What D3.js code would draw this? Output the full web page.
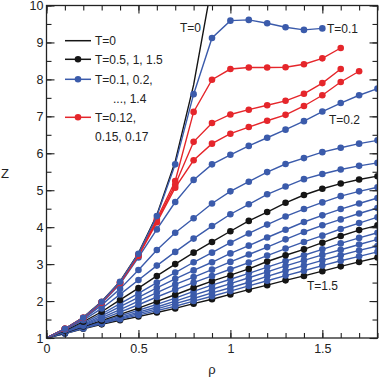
<!DOCTYPE html>
<html>
<head>
<meta charset="utf-8">
<script src="https://cdn.jsdelivr.net/npm/d3@7"></script>
<style>
body { margin: 0; background: #fff; }
text { font-family: "Liberation Sans", Arial, Helvetica, sans-serif; fill: #222; }
</style>
</head>
<body>
<svg id="chart" width="380" height="381"></svg>
<script>
// --- DATA ---
const rho = [0, 0.1, 0.2, 0.3, 0.4, 0.5, 0.6, 0.7, 0.8, 0.9, 1.0, 1.1, 1.2, 1.3, 1.4, 1.5, 1.6, 1.7, 1.8];

const zT0   = [1, 1.25, 1.56, 1.99, 2.53, 3.30, 4.33, 5.78, 7.85, 10.6];
const zT010 = [1, 1.25, 1.55, 1.98, 2.52, 3.28, 4.30, 5.70, 7.60, 9.12, 9.59, 9.61, 9.52, 9.41, 9.34, 9.38];
const zT012 = [1, 1.25, 1.55, 1.97, 2.51, 3.26, 4.22, 5.25, 7.12, 7.99, 8.28, 8.32, 8.32, 8.33, 8.41, 8.57, 8.85];
const zT015 = [1, 1.25, 1.55, 1.97, 2.50, 3.24, 4.17, 5.15, 6.31, 6.82, 7.05, 7.18, 7.30, 7.42, 7.61, 7.90, 8.28];
const zT017 = [1, 1.25, 1.54, 1.96, 2.49, 3.22, 4.13, 5.07, 5.81, 6.26, 6.53, 6.71, 6.88, 7.04, 7.28, 7.57, 7.93, 8.22];
const zT02  = [1, 1.24, 1.53, 1.94, 2.46, 3.18, 3.94, 4.68, 5.28, 5.70, 5.96, 6.20, 6.42, 6.64, 6.87, 7.13, 7.36, 7.57, 7.75];
const zT03  = [1, 1.23, 1.51, 1.89, 2.33, 2.84, 3.38, 3.85, 4.24, 4.64, 4.97, 5.23, 5.49, 5.71, 5.87, 6.03, 6.15, 6.26, 6.35];
const zT04  = [1, 1.22, 1.48, 1.80, 2.18, 2.57, 2.96, 3.33, 3.69, 4.03, 4.35, 4.62, 4.89, 5.10, 5.30, 5.44, 5.56, 5.66, 5.74];
const zT05  = [1, 1.20, 1.44, 1.71, 2.03, 2.35, 2.68, 3.00, 3.31, 3.60, 3.89, 4.17, 4.41, 4.66, 4.87, 5.04, 5.18, 5.29, 5.38];
const zT06  = [1, 1.18, 1.40, 1.65, 1.93, 2.21, 2.50, 2.77, 3.05, 3.31, 3.58, 3.83, 4.07, 4.29, 4.49, 4.67, 4.84, 4.97, 5.08];
const zT07  = [1, 1.17, 1.37, 1.60, 1.85, 2.10, 2.36, 2.60, 2.83, 3.05, 3.29, 3.50, 3.72, 3.93, 4.14, 4.32, 4.49, 4.64, 4.79];
const zT08  = [1, 1.16, 1.35, 1.55, 1.77, 2.00, 2.23, 2.45, 2.65, 2.85, 3.06, 3.26, 3.46, 3.67, 3.87, 4.05, 4.21, 4.37, 4.52];
const zT09  = [1, 1.15, 1.33, 1.51, 1.70, 1.90, 2.11, 2.31, 2.50, 2.68, 2.86, 3.04, 3.23, 3.42, 3.60, 3.77, 3.95, 4.11, 4.27];
const zT10  = [1, 1.14, 1.31, 1.47, 1.64, 1.81, 1.99, 2.17, 2.36, 2.54, 2.70, 2.87, 3.07, 3.24, 3.40, 3.58, 3.76, 3.92, 4.05];
const zT11  = [1, 1.14, 1.29, 1.44, 1.60, 1.75, 1.91, 2.08, 2.26, 2.43, 2.59, 2.75, 2.92, 3.08, 3.24, 3.40, 3.56, 3.71, 3.85];
const zT12  = [1, 1.13, 1.28, 1.42, 1.56, 1.70, 1.84, 2.00, 2.16, 2.32, 2.47, 2.63, 2.79, 2.95, 3.10, 3.25, 3.39, 3.53, 3.67];
const zT13  = [1, 1.13, 1.27, 1.40, 1.53, 1.66, 1.79, 1.93, 2.07, 2.22, 2.36, 2.51, 2.67, 2.82, 2.96, 3.10, 3.24, 3.37, 3.49];
const zT14  = [1, 1.12, 1.26, 1.39, 1.51, 1.62, 1.74, 1.86, 2.00, 2.13, 2.27, 2.41, 2.55, 2.69, 2.82, 2.96, 3.09, 3.21, 3.33];
const zT15  = [1, 1.12, 1.25, 1.37, 1.48, 1.58, 1.69, 1.80, 1.93, 2.05, 2.18, 2.31, 2.43, 2.56, 2.68, 2.81, 2.94, 3.06, 3.18];

const xTicks = [0, 0.5, 1, 1.5];
const yTicks = [1, 2, 3, 4, 5, 6, 7, 8, 9, 10];

const BLUE = "#3b5bab", RED = "#e5262b", BLACK = "#151515";

// drawn from high T to low T so the low-T curves sit on top
const series = [
    { z: zT15, color: BLACK }, { z: zT14, color: BLUE }, { z: zT13, color: BLUE },
    { z: zT12, color: BLUE }, { z: zT11, color: BLUE }, { z: zT10, color: BLACK },
    { z: zT09, color: BLUE }, { z: zT08, color: BLUE }, { z: zT07, color: BLUE },
    { z: zT06, color: BLUE }, { z: zT05, color: BLACK }, { z: zT04, color: BLUE },
    { z: zT03, color: BLUE }, { z: zT02, color: BLUE }, { z: zT017, color: RED },
    { z: zT015, color: RED }, { z: zT012, color: RED }, { z: zT010, color: BLUE }
];

// --- SETUP ---
const svg = d3.select("#chart");
const L = 46.5, R = 377.5, T = 5.5, B = 338;

const x = d3.scaleLinear().domain([0, 1.8]).range([L, R]);
const y = d3.scaleLinear().domain([1, 10]).range([B, T]);

svg.append("defs").append("clipPath").attr("id", "clip")
    .append("rect").attr("x", L).attr("y", T).attr("width", R - L).attr("height", B - T);

const plot = svg.append("g").attr("clip-path", "url(#clip)");
const line = d3.line().x(d => x(d[0])).y(d => y(d[1]));

// T=0, line only
plot.append("path")
    .datum(zT0.map((v, i) => [rho[i], v]))
    .attr("d", line).attr("fill", "none")
    .attr("stroke", BLACK).attr("stroke-width", 1.4);

series.forEach(s => {
    const pts = s.z.map((v, i) => [rho[i], v]);
    const g = plot.append("g");
    g.append("path").datum(pts).attr("d", line)
        .attr("fill", "none").attr("stroke", s.color).attr("stroke-width", 1.4);
    g.selectAll("circle").data(pts.slice(1)).join("circle")
        .attr("cx", d => x(d[0])).attr("cy", d => y(d[1])).attr("r", 3.3)
        .attr("fill", s.color);
});

// --- AXES (ticks pointing inward on all four sides) ---
const minorX = d3.range(0, 1.81, 0.1).map(v => +v.toFixed(1));
const minorY = d3.range(1, 10.01, 0.5);

function styleAxis(sel) {
    sel.select(".domain").remove();
    sel.selectAll("line").attr("stroke", "#222").attr("stroke-width", 1.1);
    sel.selectAll("text").attr("font-size", 12.5).attr("fill", "#222");
}

svg.append("g").attr("transform", `translate(0,${B})`)
    .call(d3.axisBottom(x).tickValues(minorX).tickSize(-5).tickFormat(""))
    .call(styleAxis);
svg.append("g").attr("transform", `translate(0,${B})`)
    .call(d3.axisBottom(x).tickValues(xTicks).tickSize(-8).tickPadding(6.5).tickFormat(d3.format("")))
    .call(styleAxis);
svg.append("g").attr("transform", `translate(0,${T})`)
    .call(d3.axisTop(x).tickValues(minorX).tickSize(-5).tickFormat(""))
    .call(styleAxis);
svg.append("g").attr("transform", `translate(0,${T})`)
    .call(d3.axisTop(x).tickValues(xTicks).tickSize(-8).tickFormat(""))
    .call(styleAxis);

svg.append("g").attr("transform", `translate(${L},0)`)
    .call(d3.axisLeft(y).tickValues(minorY).tickSize(-5).tickFormat(""))
    .call(styleAxis);
svg.append("g").attr("transform", `translate(${L},0)`)
    .call(d3.axisLeft(y).tickValues(yTicks).tickSize(-8).tickPadding(3).tickFormat(d3.format("d")))
    .call(styleAxis);
svg.append("g").attr("transform", `translate(${R},0)`)
    .call(d3.axisRight(y).tickValues(minorY).tickSize(-5).tickFormat(""))
    .call(styleAxis);
svg.append("g").attr("transform", `translate(${R},0)`)
    .call(d3.axisRight(y).tickValues(yTicks).tickSize(-8).tickFormat(""))
    .call(styleAxis);

svg.append("rect").attr("x", L).attr("y", T).attr("width", R - L).attr("height", B - T)
    .attr("fill", "none").attr("stroke", "#222").attr("stroke-width", 1.3);

// axis titles
svg.append("text").attr("x", (L + R) / 2).attr("y", 374).attr("text-anchor", "middle")
    .attr("font-size", 13).text("ρ");
svg.append("text").attr("x", 5).attr("y", 178).attr("text-anchor", "middle")
    .attr("font-size", 13).text("Z");

// curve labels
const labels = [
    { t: "T=0", x: 180, y: 32 },
    { t: "T=0.1", x: 327, y: 32.5 },
    { t: "T=0.2", x: 329, y: 123.5 },
    { t: "T=1.5", x: 307, y: 290 }
];
svg.selectAll("text.clabel").data(labels).join("text").attr("class", "clabel")
    .attr("x", d => d.x).attr("y", d => d.y).attr("font-size", 12).text(d => d.t);

// --- LEGEND ---
const legend = [
    { y: 40.7, color: BLACK, dot: false, lines: ["T=0"] },
    { y: 59.3, color: BLACK, dot: true, lines: ["T=0.5, 1, 1.5"] },
    { y: 79.3, color: BLUE, dot: true, lines: ["T=0.1, 0.2,", "..., 1.4"] },
    { y: 117.3, color: RED, dot: true, lines: ["T=0.12,", "0.15, 0.17"] }
];
const lg = svg.append("g");
legend.forEach(d => {
    lg.append("line").attr("x1", 65).attr("x2", 91).attr("y1", d.y).attr("y2", d.y)
        .attr("stroke", d.color).attr("stroke-width", 1.5);
    if (d.dot) lg.append("circle").attr("cx", 78).attr("cy", d.y).attr("r", 3.3).attr("fill", d.color);
    d.lines.forEach((t, i) => {
        lg.append("text").attr("x", i === 0 ? 95 : (d.color === BLUE ? 113 : 95))
            .attr("y", d.y + 4.5 + i * 19.5).attr("font-size", 12).text(t);
    });
});
</script>
</body>
</html>
